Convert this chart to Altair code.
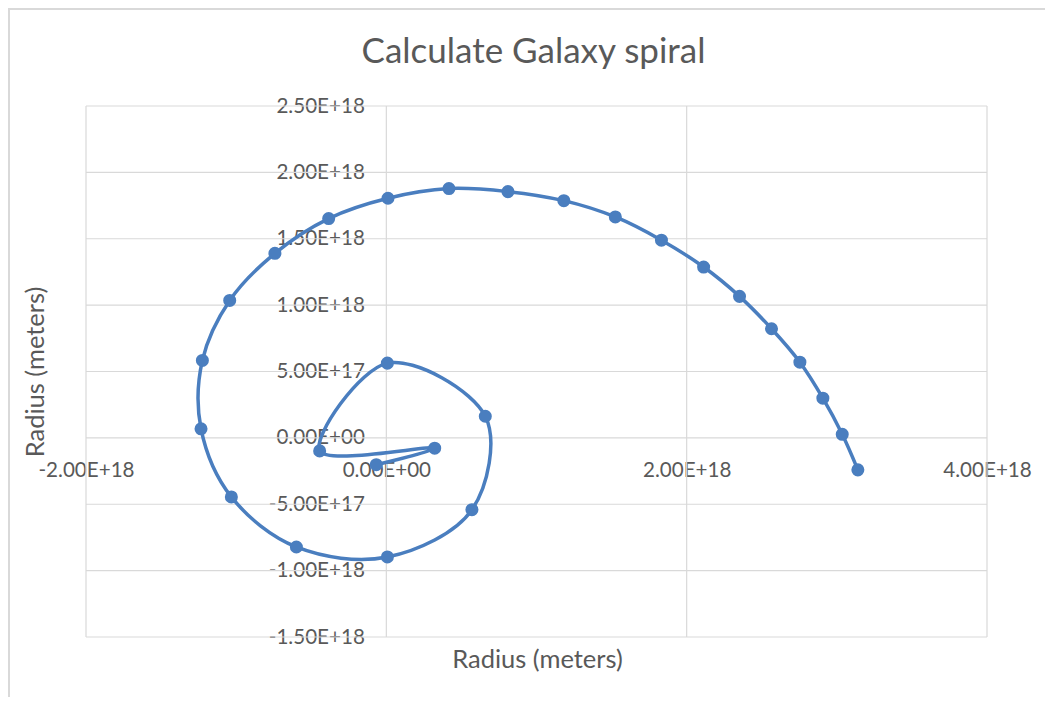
import altair as alt
import pandas as pd

# Spiral points (x, y in meters), in drawing order
x_vals = [-0.067e18, 0.322e18, -0.444e18, 0.007e18, 0.659e18, 0.570e18, 0.007e18,
          -0.599e18, -1.032e18, -1.234e18, -1.225e18, -1.043e18, -0.742e18, -0.384e18,
          0.011e18, 0.417e18, 0.810e18, 1.182e18, 1.525e18, 1.832e18, 2.113e18,
          2.352e18, 2.565e18, 2.754e18, 2.907e18, 3.036e18, 3.140e18]
y_vals = [-0.202e18, -0.078e18, -0.098e18, 0.563e18, 0.163e18, -0.541e18, -0.897e18,
          -0.822e18, -0.445e18, 0.068e18, 0.583e18, 1.035e18, 1.390e18, 1.652e18,
          1.805e18, 1.878e18, 1.855e18, 1.787e18, 1.664e18, 1.489e18, 1.287e18,
          1.066e18, 0.822e18, 0.570e18, 0.299e18, 0.027e18, -0.241e18]

x_ticks = [-2e18, 0, 2e18, 4e18]
y_ticks = [-1.5e18, -1.0e18, -0.5e18, 0, 0.5e18, 1.0e18, 1.5e18, 2.0e18, 2.5e18]

chart_title = "Calculate Galaxy spiral"
x_title = "Radius (meters)"
y_title = "Radius (meters)"

W, H = 901, 531
PAD = {"left": 78, "top": 98, "right": 58, "bottom": 60}
FONT = "Lato"
GRAY = "#595959"
GRID = "#d9d9d9"
BLUE = "#4a7ebf"

df = pd.DataFrame({"x": x_vals, "y": y_vals, "i": list(range(len(x_vals)))})

xscale = alt.Scale(domain=[x_ticks[0], x_ticks[-1]], nice=False, zero=False)
yscale = alt.Scale(domain=[y_ticks[0], y_ticks[-1]], nice=False, zero=False)

label_expr = ("datum.value == 0 ? '0.00E+00' : "
              "replace(upper(format(datum.value, '.2e')), '\u2212', '-')")

# offsets that move the axes onto the zero lines
x_off = -W * (0 - x_ticks[0]) / (x_ticks[-1] - x_ticks[0])
y_off = -H * (0 - y_ticks[0]) / (y_ticks[-1] - y_ticks[0])

x_axis = alt.Axis(values=x_ticks, labelExpr=label_expr, grid=False, domain=False,
                  ticks=False, offset=y_off, labelFont=FONT, labelFontSize=20.6,
                  labelColor=GRAY, labelPadding=22.5, labelAlign="center",
                  labelBaseline="top", labelFlush=False, labelOverlap=False,
                  title=x_title, titleFont=FONT, titleFontSize=25.5,
                  titleFontWeight="normal", titleColor=GRAY,
                  titleX=W / 2 + 0.5, titleY=660 - (106 + H + y_off) - 0.5,
                  titleAlign="center", titleBaseline="middle", titleAngle=0)
y_axis = alt.Axis(values=y_ticks, labelExpr=label_expr, grid=False, domain=False,
                  ticks=False, offset=x_off, labelFont=FONT, labelFontSize=20.6,
                  labelColor=GRAY, labelPadding=22, labelAlign="right",
                  labelBaseline="middle", labelFlush=False, labelOverlap=False,
                  title=y_title, titleFont=FONT, titleFontSize=25.5,
                  titleFontWeight="normal", titleColor=GRAY,
                  titleX=36 - (86 - x_off) - 0.5, titleY=H / 2,
                  titleAlign="center", titleBaseline="middle", titleAngle=-90)

vgrid = alt.Chart(pd.DataFrame({"x": x_ticks})).mark_rule(
    color=GRID, strokeWidth=1.2).encode(x=alt.X("x:Q", scale=xscale, axis=x_axis))
hgrid = alt.Chart(pd.DataFrame({"y": y_ticks})).mark_rule(
    color=GRID, strokeWidth=1.2).encode(y=alt.Y("y:Q", scale=yscale, axis=y_axis))

base = alt.Chart(df)
line = base.mark_line(interpolate="catmull-rom", color=BLUE, strokeWidth=3.5).encode(
    x=alt.X("x:Q", scale=xscale, axis=x_axis),
    y=alt.Y("y:Q", scale=yscale, axis=y_axis),
    order="i:Q")
pts = base.mark_circle(color=BLUE, size=170, opacity=1).encode(
    x=alt.X("x:Q", scale=xscale, axis=x_axis),
    y=alt.Y("y:Q", scale=yscale, axis=y_axis))

one = alt.Data(values=[{"t": chart_title}])
border = alt.Chart(one).mark_rect(filled=False, fill=None, stroke=GRID,
                                  strokeWidth=2).encode(
    x=alt.value(-PAD["left"] + 1), x2=alt.value(W + PAD["right"] + 6),
    y=alt.value(-PAD["top"] + 1), y2=alt.value(H + PAD["bottom"] + 6))
title = alt.Chart(one).mark_text(font=FONT, fontSize=35, color=GRAY,
                                 align="center", baseline="alphabetic").encode(
    x=alt.value(533.5 - 86), y=alt.value(63 - 106), text="t:N")

chart = alt.layer(border, vgrid, hgrid, line, pts, title).properties(
    width=W, height=H,
    autosize=alt.AutoSizeParams(type="none"),
    padding=PAD,
).configure_view(stroke=None)

chart.save("out.html", embed_options={"renderer": "svg", "actions": False})
